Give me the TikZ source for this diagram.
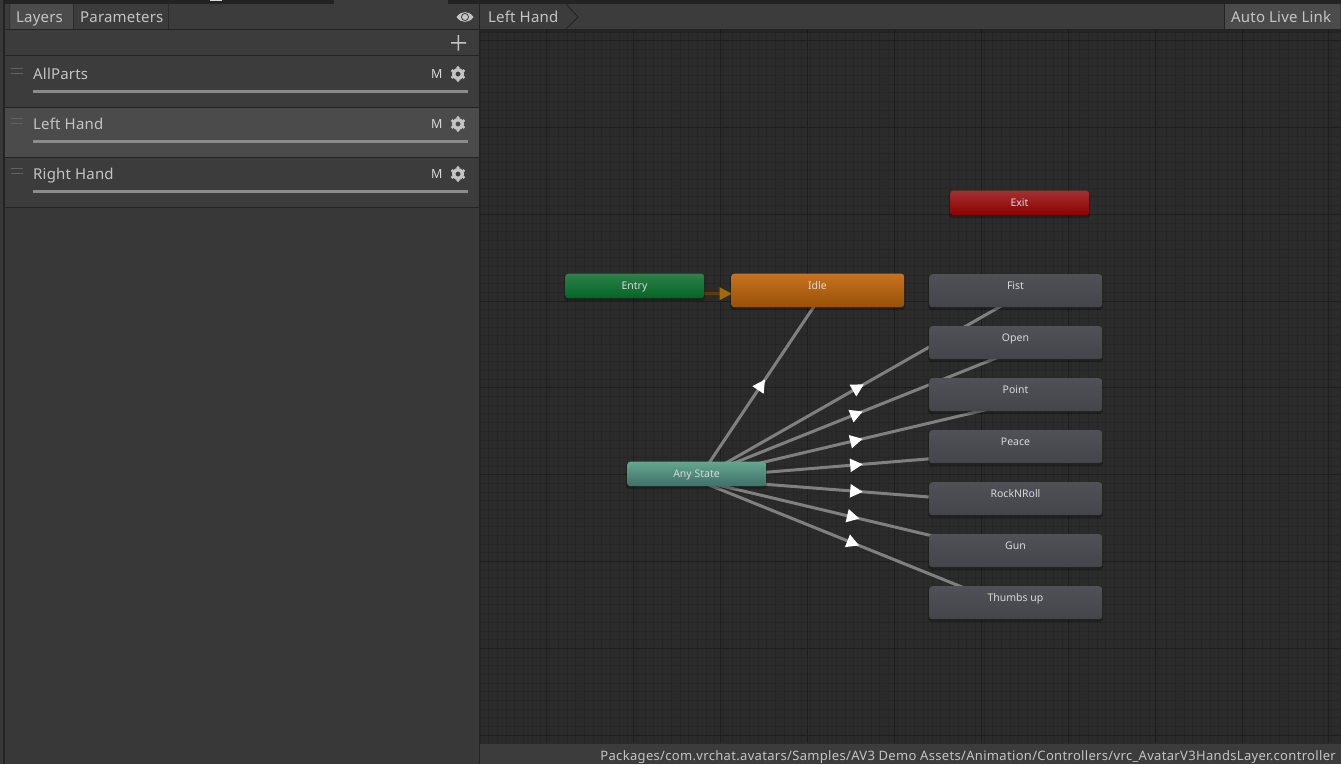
\documentclass[tikz,border=0pt]{standalone}
\usepackage{fontspec}
\setmainfont{Noto Sans}
\usetikzlibrary{decorations.markings,calc}
\definecolor{panel}{HTML}{383838}
\definecolor{bar}{HTML}{3C3C3C}
\definecolor{sel}{HTML}{4B4B4B}
\definecolor{sep}{HTML}{232323}
\definecolor{txt}{HTML}{C4C4C4}
\definecolor{gridbg}{HTML}{2B2B2B}
\definecolor{gridmin}{HTML}{262626}
\definecolor{gridmaj}{HTML}{1E1E1E}
\definecolor{edgegray}{HTML}{808080}
\definecolor{entryline}{HTML}{5C3C0A}
\definecolor{entrytip}{HTML}{A06A05}
\definecolor{dragmark}{HTML}{626262}
\pgfdeclarelayer{edges}
\pgfsetlayers{edges,main}
\tikzset{
  x=1pt,y=-1pt,
  uitext/.style={font=\fontsize{15}{16}\selectfont\addfontfeatures{LetterSpace=1.2},text=txt,inner sep=0pt,anchor=base west},
  smalltext/.style={font=\fontsize{10.5}{12}\selectfont,text=white!85!black,inner sep=0pt,anchor=base},
  statebox/.style={rounded corners=3pt,inner sep=0pt,draw=none},
  trans/.style={draw=edgegray,line width=3pt,postaction={decorate},
    decoration={markings,mark=at position #1 with {\fill[white] (6.5,0)--(-6,6.8)--(-6,-6.8)--cycle;}}},
  trans/.default=0.5,
  entrytrans/.style={draw=entryline,line width=3pt,postaction={decorate},
    decoration={markings,mark=at position 0.497 with {\fill[entrytip] (6,0)--(-6,6.5)--(-6,-6.5)--cycle;}}},
}
\newcommand{\state}[9]{% name x1 y1 x2 y2 top bottom label labely
  \fill[black,opacity=.25,rounded corners=3pt] (#2-1,#3+1) rectangle (#4+1,#5+3);
  \node[statebox,minimum width=#4pt-#2pt,minimum height=#5pt-#3pt,top color=#6,bottom color=#7,anchor=north west] (#1) at (#2,#3) {};
  \node[smalltext] (#1-label) at ($(#2,#9)!.5!(#4,#9)$) {#8};
}
\newcommand{\layerrow}[3]{% name y-top label
  \node[uitext] (#1) at (33,#2+21) {#3};
  \draw[dragmark,line width=.9pt] (11,#2+10)--(23,#2+10) (11,#2+15)--(23,#2+15);
  \node[inner sep=0pt,font=\fontsize{12.5}{14}\bfseries\selectfont,text=white!85!black,anchor=base] (#1-m) at (436.8,#2+20) {M};
  \fill[txt,even odd rule] (458,#2+16) circle (2.6) (458,#2+16) circle (6);
  \foreach \a in {30,90,...,330}{\fill[txt] (458,#2+16) ++(\a:6.4) circle (1.7);}
  \fill[black!45!white] (33,#2+31.5) rectangle (468,#2+34.5);
}
\definecolor{c1t}{HTML}{2D8049}\definecolor{c1b}{HTML}{046626}
\definecolor{c2t}{HTML}{C8721F}\definecolor{c2b}{HTML}{985107}
\definecolor{c3t}{HTML}{A33030}\definecolor{c3b}{HTML}{8E0000}
\definecolor{c4t}{HTML}{63A68F}\definecolor{c4b}{HTML}{3F7068}
\definecolor{c5t}{HTML}{505156}\definecolor{c5b}{HTML}{44454A}
\begin{document}
\begin{tikzpicture}
\useasboundingbox (0,0) rectangle (1341,764);
\begin{pgfonlayer}{edges}
% background
\fill[gridbg] (0,0) rectangle (1341,764);
\foreach \i in {0,...,100}{\draw[gridmin,line width=.7pt] (480+\i*8.69,30)--(480+\i*8.69,743);}
\foreach \i in {-4,...,80}{\draw[gridmin,line width=.7pt] (480,40.6+\i*8.68)--(1341,40.6+\i*8.68);}
\foreach \i in {0,...,9}{\draw[gridmaj,line width=1pt] (546.8+\i*86.9,30)--(546.8+\i*86.9,743);}
\foreach \i in {0,...,8}{\draw[gridmaj,line width=1pt] (480,40.6+\i*86.8)--(1341,40.6+\i*86.8);}
\end{pgfonlayer}
% chrome
\fill[sep] (0,0) rectangle (1341,4);
\fill[bar] (334,0) rectangle (448,4);
\fill[white!85!black] (210,0) rectangle (222,1.2);
\fill[panel] (0,0) rectangle (3,764);
\fill[sep] (3,0) rectangle (4.5,764);
\fill[panel] (4.5,30) rectangle (479,764);
\fill[bar] (4.5,4) rectangle (1341,29);
\fill[sep] (4.5,29) rectangle (1341,30);
\fill[sep] (479,4) rectangle (480,764);
\fill[black,opacity=.12] (480,30) rectangle (1341,33);
\fill[bar] (4.5,30) rectangle (479,55);
\fill[bar] (4.5,56) rectangle (479,107);
\fill[sel] (4.5,108) rectangle (479,157);
\fill[bar] (4.5,158) rectangle (479,207);
\foreach \y in {55,107,157,207}{\fill[sep] (4.5,\y) rectangle (479,\y+1);}
\fill[sel] (10,4) rectangle (73,29);
\fill[sep] (73,4) rectangle (73.7,29) (168,4) rectangle (168.7,29) (9.5,4) rectangle (10,29);
\node[uitext] (layers) at (16,22) {Layers};
\node[uitext] (parameters) at (80,22) {Parameters};
% eye
\fill[txt] (456.5,17) .. controls (461,10.5) and (469,10.5) .. (473.5,17) .. controls (469,23.5) and (461,23.5) .. (456.5,17) -- cycle;
\fill[bar] (465,17) circle (4);
\fill[txt] (465,17) circle (3);
% breadcrumb
\node[uitext] (crumb) at (488,22) {Left Hand};
\draw[sep,line width=.8pt] (566,4)--(578,17)--(566,29);
% auto live link
\fill[sel] (1225,4) rectangle (1340,29);
\fill[sep] (1224,4) rectangle (1225,29);
\node[uitext] (autolive) at (1231,22) {Auto Live Link};
% plus
\fill[txt] (451,42) rectangle (466,43.5) (457.7,35) rectangle (459.2,50.5);
% layers
\layerrow{allparts}{58}{AllParts}
\layerrow{lefthand}{108}{Left Hand}
\layerrow{righthand}{158}{Right Hand}
% footer
\fill[bar] (480,744) rectangle (1341,764);
\node[font=\fontsize{13}{14}\selectfont\addfontfeatures{LetterSpace=2.5},text=txt,inner sep=0pt,anchor=base east] (path) at (1336,760) {Packages/com.vrchat.avatars/Samples/AV3 Demo Assets/Animation/Controllers/vrc\_AvatarV3HandsLayer.controller};
% states
\state{exit}{950}{190.5}{1089}{215}{c3t}{c3b}{Exit}{206}
\state{entry}{565}{273.5}{704}{298}{c1t}{c1b}{Entry}{289}
\state{idle}{731}{273.5}{904}{307}{c2t}{c2b}{Idle}{289}
\state{any}{627}{461.5}{766}{486}{c4t}{c4b}{Any State}{477}
\state{fist}{929}{274}{1102}{307}{c5t}{c5b}{Fist}{289}
\state{open}{929}{326}{1102}{359}{c5t}{c5b}{Open}{341}
\state{point}{929}{378}{1102}{411}{c5t}{c5b}{Point}{393}
\state{peace}{929}{430}{1102}{463}{c5t}{c5b}{Peace}{445}
\state{rock}{929}{482}{1102}{515}{c5t}{c5b}{RockNRoll}{497}
\state{gun}{929}{534}{1102}{567}{c5t}{c5b}{Gun}{549}
\state{thumbs}{929}{586}{1102}{619}{c5t}{c5b}{Thumbs up}{601}
% connectors, drawn beneath the states
\begin{pgfonlayer}{edges}
\path[entrytrans] ([yshift=-7.5pt]entry.center) -- ([yshift=-3.5pt]idle.center);
\path[trans=.485] ([xshift=5pt]any.center) -- ([xshift=7pt]idle.center);
\path[trans=.49] ([xshift=10pt]any.center) -- ([yshift=-7pt]fist.center);
\path[trans=.485] ([xshift=10pt]any.center) -- ([yshift=-7.5pt]open.center);
\path[trans] ([yshift=-4pt]any.center) -- ([yshift=-8pt]point.center);
\path[trans] ([yshift=-4pt]any.center) -- ([yshift=-5pt]peace.center);
\path[trans] ([yshift=-5pt]any.center) -- ([yshift=-5pt]rock.center);
\path[trans=.49] ([yshift=-6pt]any.center) -- ([yshift=-5pt]gun.center);
\path[trans=.49] ([yshift=-6pt]any.center) -- ([yshift=-6pt]thumbs.center);
\end{pgfonlayer}
\end{tikzpicture}
\end{document}
